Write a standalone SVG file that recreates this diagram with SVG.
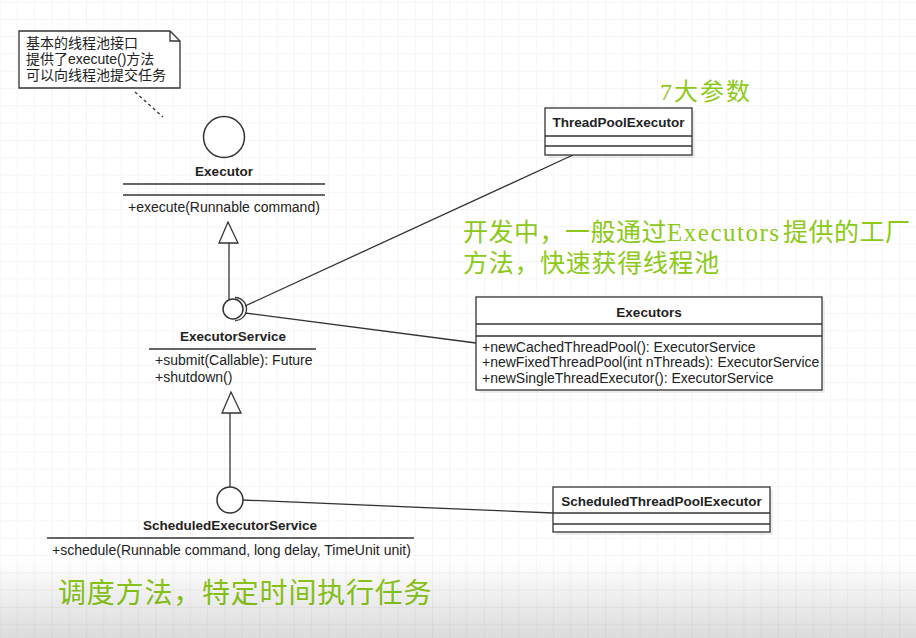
<svg xmlns="http://www.w3.org/2000/svg" width="916" height="638" viewBox="0 0 916 638">
<defs>
  <pattern id="grid" x="0.5" y="2.5" width="17.3" height="17.3" patternUnits="userSpaceOnUse">
    <path d="M17.3 0 V17.3 M0 17.3 H17.3" fill="none" stroke="#ececec" stroke-width="1"/>
  </pattern>
  <linearGradient id="fade" x1="0" y1="0" x2="0" y2="1">
    <stop offset="0" stop-color="#000" stop-opacity="0"/>
    <stop offset="1" stop-color="#000" stop-opacity="0.14"/>
  </linearGradient>
  <style>
    .ln{stroke:#333;stroke-width:1.3;fill:none}
    .box{fill:#fff;stroke:#333;stroke-width:1.3}
    .shadow{fill:#000;fill-opacity:0.07}
    .circ{fill:#fff;stroke:#333;stroke-width:1.5}
    .name{font-family:"Liberation Sans",Arial,sans-serif;font-weight:bold;font-size:13.5px;fill:#222;text-anchor:middle}
    .m{font-family:"Liberation Sans",Arial,sans-serif;font-size:14px;fill:#222}
    .note{font-family:"Liberation Sans","Noto Sans CJK SC",sans-serif;font-size:14px;fill:#222}
    .green{font-family:"Liberation Serif","Noto Sans CJK SC",serif;fill:#8cc919}
    .tri{fill:#fff;stroke:#333;stroke-width:1.3}
  </style>
</defs>
<rect width="916" height="638" fill="#fff"/>
<rect width="916" height="638" fill="url(#grid)"/>

<g id="connectors">
  <line class="ln" x1="135" y1="92" x2="163" y2="117" stroke-dasharray="3,3"/>
  <line class="ln" x1="229" y1="243" x2="229" y2="299"/>
  <polygon class="tri" points="228,222 219,243 238,243"/>
  <line class="ln" x1="230" y1="413" x2="230" y2="487"/>
  <polygon class="tri" points="231,392 222,413 241,413"/>
  <line class="ln" x1="245" y1="306" x2="573" y2="155"/>
  <line class="ln" x1="245" y1="313" x2="476" y2="343"/>
  <line class="ln" x1="243" y1="500" x2="553" y2="513"/>
</g>

<g id="note">
  <path d="M19 31 H170 L180 41 V88 H19 Z" fill="#fff" stroke="#333" stroke-width="1.3"/>
  <path d="M170 31 V41 H180" fill="none" stroke="#333" stroke-width="1.3"/>
  <text class="note" x="26" y="48">基本的线程池接口</text>
  <text class="note" x="26" y="64">提供了execute()方法</text>
  <text class="note" x="26" y="80">可以向线程池提交任务</text>
</g>

<g id="executor">
  <circle class="circ" cx="224" cy="137" r="20.5"/>
  <text class="name" x="224" y="176">Executor</text>
  <line class="ln" x1="123" y1="184" x2="325" y2="184"/>
  <line class="ln" x1="123" y1="195" x2="325" y2="195"/>
  <text class="m" x="128" y="212">+execute(Runnable command)</text>
</g>

<g id="executorService">
  <circle class="circ" cx="233" cy="309" r="10"/>
  <path class="ln" d="M235 297.5 A11.5 11.5 0 0 1 235 320.5" stroke-width="1.5"/>
  <text class="name" x="233" y="341">ExecutorService</text>
  <line class="ln" x1="149" y1="349" x2="316" y2="349"/>
  <text class="m" x="155" y="365">+submit(Callable): Future</text>
  <text class="m" x="155" y="382">+shutdown()</text>
</g>

<g id="scheduledExecutorService">
  <circle class="circ" cx="230" cy="500" r="13"/>
  <text class="name" x="230" y="530">ScheduledExecutorService</text>
  <line class="ln" x1="47" y1="538" x2="414" y2="538"/>
  <text class="m" x="52" y="555">+schedule(Runnable command, long delay, TimeUnit unit)</text>
</g>

<g id="threadPoolExecutor">
  <rect class="shadow" x="548" y="111" width="147" height="47"/>
  <rect class="box" x="545" y="108" width="147" height="47"/>
  <line class="ln" x1="545" y1="136" x2="692" y2="136"/>
  <line class="ln" x1="545" y1="146" x2="692" y2="146"/>
  <text class="name" x="618.5" y="127">ThreadPoolExecutor</text>
</g>

<g id="executors">
  <rect class="shadow" x="479" y="300" width="346" height="93"/>
  <rect class="box" x="476" y="297" width="346" height="93"/>
  <line class="ln" x1="476" y1="324" x2="822" y2="324"/>
  <line class="ln" x1="476" y1="336" x2="822" y2="336"/>
  <text class="name" x="649" y="317">Executors</text>
  <text class="m" x="482" y="352">+newCachedThreadPool(): ExecutorService</text>
  <text class="m" x="482" y="367">+newFixedThreadPool(int nThreads): ExecutorService</text>
  <text class="m" x="482" y="383">+newSingleThreadExecutor(): ExecutorService</text>
</g>

<g id="scheduledThreadPoolExecutor">
  <rect class="shadow" x="556" y="490" width="217" height="45"/>
  <rect class="box" x="553" y="487" width="217" height="45"/>
  <line class="ln" x1="553" y1="513" x2="770" y2="513"/>
  <line class="ln" x1="553" y1="524" x2="770" y2="524"/>
  <text class="name" x="661.5" y="506">ScheduledThreadPoolExecutor</text>
</g>

<g id="annotations">
  <text class="green" x="660" y="100" font-size="24" letter-spacing="2">7大参数</text>
  <text class="green" x="463" y="241" font-size="25" letter-spacing="0.5">开发中，一般通过<tspan x="667" textLength="112" lengthAdjust="spacing" letter-spacing="0">Executors</tspan><tspan x="783">提供的工厂</tspan></text>
  <text class="green" x="463" y="272" font-size="25" letter-spacing="0.7">方法，快速获得线程池</text>
  <text class="green" x="58" y="603" font-size="28" letter-spacing="0.8">调度方法，特定时间执行任务</text>
</g>

<rect x="0" y="560" width="916" height="78" fill="url(#fade)"/>
</svg>
